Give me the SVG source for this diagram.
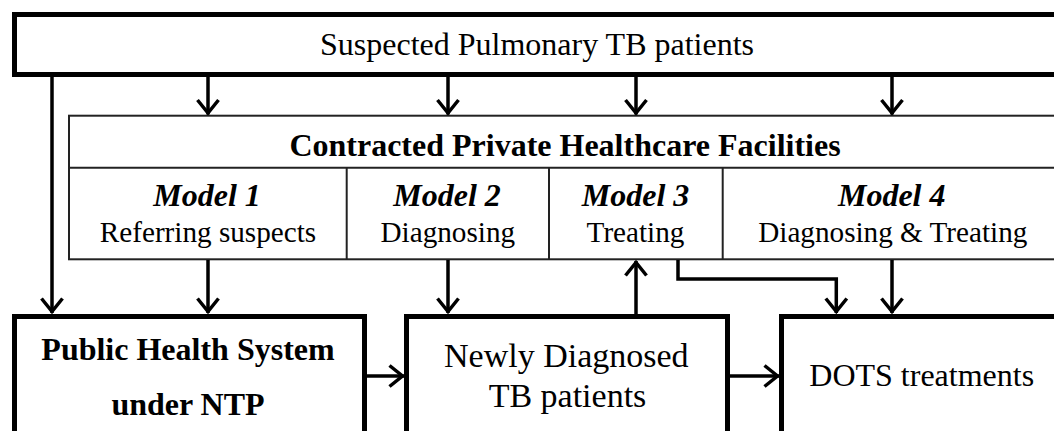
<svg xmlns="http://www.w3.org/2000/svg" width="1054" height="431" viewBox="0 0 1054 431">
  <style>
    .thick { fill: #ffffff; stroke: #000000; stroke-width: 5; }
    .thin { fill: #ffffff; stroke: #222222; stroke-width: 2; }
    .conn { fill: none; stroke: #000000; stroke-width: 3.5; }
    text { font-family: "Liberation Serif", "Times New Roman", serif; fill: #000000; text-anchor: middle; }
    .b { font-weight: bold; }
    .bi { font-weight: bold; font-style: italic; }
  </style>
  <defs>
    <marker id="arr" viewBox="-20 -15 30 30" refX="0" refY="0" markerWidth="30" markerHeight="30" markerUnits="userSpaceOnUse" orient="auto" overflow="visible">
      <path d="M-14.5,-10.5 L-1.5,0 L-14.5,10.5" fill="none" stroke="#000000" stroke-width="3.5"/>
    </marker>
  </defs>
  <rect width="1054" height="431" fill="#ffffff"/>

  <g id="suspected">
    <rect class="thick" x="14.5" y="14.5" width="1050" height="60"/>
    <text x="537" y="54.5" font-size="32">Suspected Pulmonary TB patients</text>
  </g>

  <g id="contracted">
    <rect class="thin" x="69" y="115.7" width="1000" height="143.6"/>
    <line class="thin" x1="69" y1="167.7" x2="1054" y2="167.7"/>
    <line class="thin" x1="346.7" y1="167.7" x2="346.7" y2="259.3"/>
    <line class="thin" x1="549" y1="167.7" x2="549" y2="259.3"/>
    <line class="thin" x1="722.7" y1="167.7" x2="722.7" y2="259.3"/>
    <text class="b" x="565" y="156" font-size="32">Contracted Private Healthcare Facilities</text>
  </g>
  <g id="model1">
    <text class="bi" x="207" y="206" font-size="32">Model 1</text>
    <text x="208" y="241.5" font-size="29.2">Referring suspects</text>
  </g>
  <g id="model2">
    <text class="bi" x="447" y="206" font-size="32">Model 2</text>
    <text x="447.8" y="241.5" font-size="29.2">Diagnosing</text>
  </g>
  <g id="model3">
    <text class="bi" x="635.5" y="206" font-size="32">Model 3</text>
    <text x="635.5" y="241.5" font-size="29.2">Treating</text>
  </g>
  <g id="model4">
    <text class="bi" x="891.7" y="206" font-size="32">Model 4</text>
    <text x="892.8" y="241.5" font-size="29.2">Diagnosing &amp; Treating</text>
  </g>

  <g id="public">
    <rect class="thick" x="14.5" y="316.5" width="350" height="200"/>
    <text class="b" x="188" y="359.5" font-size="32">Public Health System</text>
    <text class="b" x="188" y="415" font-size="32">under NTP</text>
  </g>

  <g id="newly">
    <rect class="thick" x="406.5" y="316.5" width="321" height="200"/>
    <text x="566.3" y="366.7" font-size="34">Newly Diagnosed</text>
    <text x="567.5" y="406.7" font-size="34">TB patients</text>
  </g>

  <g id="dots">
    <rect class="thick" x="781.5" y="316.5" width="400" height="200"/>
    <text x="921.7" y="386" font-size="32">DOTS treatments</text>
  </g>

  <g id="connectors">
    <path class="conn" d="M52,77 V313" marker-end="url(#arr)"/>
    <path class="conn" d="M208,77 V114.5" marker-end="url(#arr)"/>
    <path class="conn" d="M448,77 V114.5" marker-end="url(#arr)"/>
    <path class="conn" d="M636,77 V114.5" marker-end="url(#arr)"/>
    <path class="conn" d="M892,77 V114.5" marker-end="url(#arr)"/>
    <path class="conn" d="M208,260 V313" marker-end="url(#arr)"/>
    <path class="conn" d="M448,260 V313" marker-end="url(#arr)"/>
    <path class="conn" d="M636,314 V261" marker-end="url(#arr)"/>
    <path class="conn" d="M678,260 V279 H836.3 V313" marker-end="url(#arr)"/>
    <path class="conn" d="M892,260 V313" marker-end="url(#arr)"/>
    <path class="conn" d="M367,376 H404" marker-end="url(#arr)"/>
    <path class="conn" d="M730,376 H779" marker-end="url(#arr)"/>
  </g>
</svg>
